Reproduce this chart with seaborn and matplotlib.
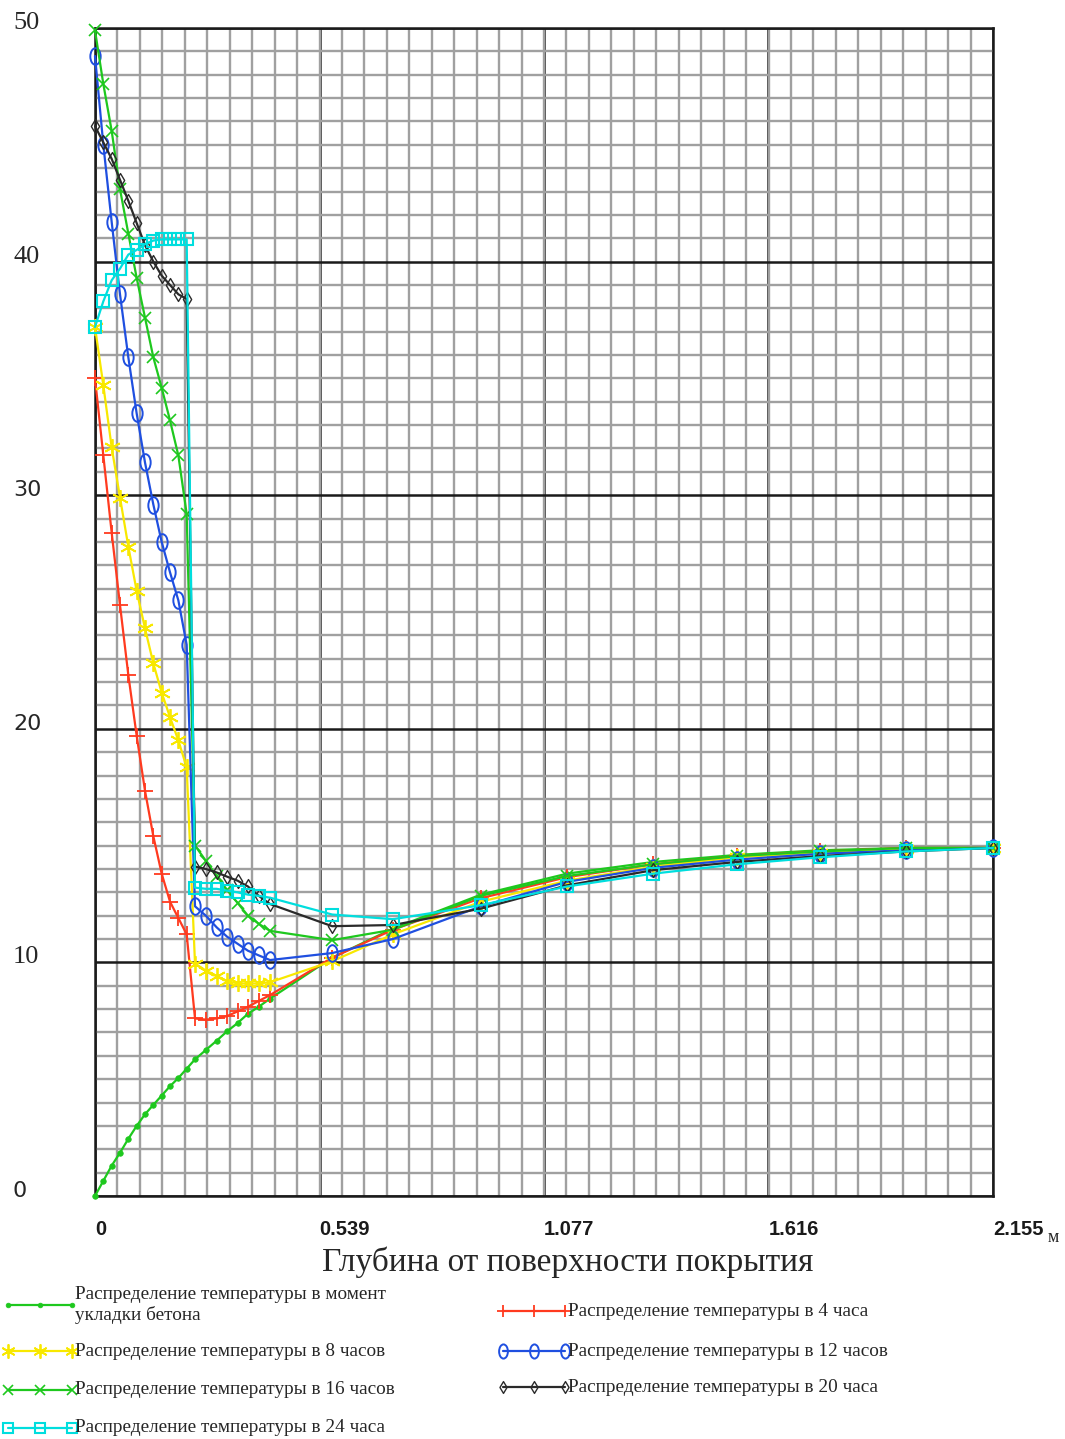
import numpy as np
import matplotlib
matplotlib.use("Agg")
import matplotlib.pyplot as plt
import matplotlib.transforms as mtransforms
from matplotlib.lines import Line2D
from matplotlib.path import Path
from matplotlib.ticker import FixedLocator
import seaborn as sns

# depth mesh, m (concrete 0..0.22, soil below)
depth = [0.0, 0.02, 0.04, 0.06, 0.08, 0.10, 0.12, 0.14, 0.16, 0.18, 0.20, 0.22,
         0.24, 0.266, 0.292, 0.317, 0.342, 0.367, 0.393, 0.42,
         0.569, 0.715, 0.926, 1.133, 1.34, 1.54, 1.74, 1.946, 2.155]

# temperature, deg C
temp_0h = [0.0, 0.65, 1.3, 1.85, 2.45, 3.0, 3.5, 3.9, 4.3, 4.7, 5.05, 5.45,
           5.85, 6.25, 6.65, 7.05, 7.4, 7.8, 8.1, 8.45,
           10.2, 11.45, 12.9, 13.8, 14.3, 14.6, 14.8, 14.9, 14.9]
temp_4h = [35.0, 31.7, 28.4, 25.3, 22.3, 19.7, 17.35, 15.4, 13.8, 12.6, 11.9, 11.2,
           7.6, 7.55, 7.6, 7.7, 7.9, 8.1, 8.35, 8.6,
           10.2, 11.4, 12.75, 13.65, 14.2, 14.55, 14.75, 14.9, 14.9]
temp_8h = [37.2, 34.7, 32.05, 29.9, 27.8, 25.9, 24.3, 22.8, 21.55, 20.5, 19.5, 18.35,
           9.95, 9.65, 9.4, 9.2, 9.1, 9.1, 9.1, 9.15,
           10.05, 11.2, 12.6, 13.5, 14.1, 14.5, 14.7, 14.85, 14.9]
temp_12h = [48.8, 45.0, 41.7, 38.6, 35.9, 33.5, 31.4, 29.6, 28.0, 26.7, 25.5, 23.6,
            12.4, 12.0, 11.5, 11.1, 10.8, 10.5, 10.3, 10.1,
            10.4, 11.0, 12.4, 13.45, 14.05, 14.4, 14.65, 14.8, 14.9]
temp_16h = [49.9, 47.6, 45.6, 43.1, 41.2, 39.3, 37.6, 35.9, 34.6, 33.2, 31.7, 29.2,
            15.0, 14.35, 13.7, 13.1, 12.55, 12.0, 11.65, 11.35,
            10.95, 11.4, 12.85, 13.7, 14.2, 14.55, 14.75, 14.9, 14.9]
temp_20h = [45.8, 45.1, 44.4, 43.5, 42.6, 41.65, 40.7, 40.0, 39.4, 39.0, 38.6, 38.4,
            14.1, 14.0, 13.85, 13.67, 13.5, 13.25, 12.85, 12.5,
            11.55, 11.6, 12.3, 13.3, 13.95, 14.3, 14.55, 14.75, 14.9]
temp_24h = [37.2, 38.3, 39.2, 39.7, 40.3, 40.5, 40.75, 40.9, 40.95, 40.95, 40.95, 40.95,
            13.2, 13.15, 13.15, 13.07, 13.0, 12.9, 12.85, 12.77,
            12.05, 11.85, 12.45, 13.25, 13.8, 14.2, 14.5, 14.75, 14.9]

series_labels = [
    "Распределение температуры в момент\nукладки бетона",
    "Распределение температуры в 4 часа",
    "Распределение температуры в 8 часов",
    "Распределение температуры в 12 часов",
    "Распределение температуры в 16 часов",
    "Распределение температуры в 20 часа",
    "Распределение температуры в 24 часа",
]
x_ticks = [0.0, 0.539, 1.077, 1.616, 2.155]
x_tick_labels = ["0", "0.539", "1.077", "1.616", "2.155"]
y_ticks = [0, 10, 20, 30, 40, 50]
y_tick_labels = ["0", "10", "20", "30", "40", "50"]

sns.set_style("white")
plt.rcParams["font.family"] = ["Liberation Serif", "DejaVu Serif"]

W, H = 1065, 1439
fig = plt.figure(figsize=(W / 100, H / 100), dpi=100)
ax = fig.add_axes([95 / W, 1 - 1196 / H, (993 - 95) / W, (1196 - 28) / H])

# tall ellipse / narrow diamond markers like the original
ellipse = Path.unit_circle().transformed(mtransforms.Affine2D().scale(0.62, 1.0))
diamond = Path([(0, -1), (0.6, 0), (0, 1), (-0.6, 0), (0, -1)],
               [Path.MOVETO, Path.LINETO, Path.LINETO, Path.LINETO, Path.CLOSEPOLY])

styles = [
    dict(color="#1ec81e", marker="o", markersize=4, markerfacecolor="#1ec81e", markeredgewidth=0.5),
    dict(color="#ff3a1f", marker="+", markersize=11, markerfacecolor="none", markeredgewidth=1.3),
    dict(color="#f8e800", marker=(6, 2, 0), markersize=12, markerfacecolor="none", markeredgewidth=1.3),
    dict(color="#1f4fe0", marker=ellipse, markersize=12, markerfacecolor="none", markeredgewidth=1.4),
    dict(color="#1ec81e", marker="x", markersize=9, markerfacecolor="none", markeredgewidth=1.2),
    dict(color="#2a2a2a", marker=diamond, markersize=10, markerfacecolor="none", markeredgewidth=1.0),
    dict(color="#00dede", marker="s", markersize=9, markerfacecolor="none", markeredgewidth=1.5),
]
all_temps = [temp_0h, temp_4h, temp_8h, temp_12h, temp_16h, temp_20h, temp_24h]

for temps, st in zip(all_temps, styles):
    sns.lineplot(x=depth, y=temps, ax=ax, estimator=None, sort=False,
                 linewidth=1.6, color=st["color"], marker=st["marker"],
                 markersize=st["markersize"], markerfacecolor=st["markerfacecolor"],
                 markeredgecolor=st["color"], markeredgewidth=st["markeredgewidth"],
                 clip_on=False, zorder=3)

ax.set_xlim(0, 2.155)
ax.set_ylim(0, 50)
ax.xaxis.set_major_locator(FixedLocator(x_ticks))
ax.xaxis.set_minor_locator(FixedLocator(np.linspace(0, 2.155, 41)))
ax.yaxis.set_major_locator(FixedLocator(y_ticks))
ax.yaxis.set_minor_locator(FixedLocator(np.arange(0, 51, 1)))
ax.grid(which="minor", color="#a0a0a0", linewidth=1.7, zorder=0)
ax.grid(which="major", color="#1a1a1a", linewidth=1.8, zorder=1)
ax.set_axisbelow(True)
for side in ["left", "bottom", "top", "right"]:
    ax.spines[side].set_color("#1a1a1a")
    ax.spines[side].set_linewidth(1.8)

ax.set_xticklabels(x_tick_labels, ha="left", family=["Liberation Sans", "DejaVu Sans"],
                   fontweight="bold", fontsize=14.5)
ax.tick_params(axis="x", which="major", direction="out", length=6, width=1.2, pad=11, colors="#1a1a1a")
ax.tick_params(axis="x", which="minor", length=0)
ax.tick_params(axis="y", which="major", direction="out", length=5, width=1.2, colors="#1a1a1a")
ax.tick_params(axis="y", which="minor", direction="out", length=3, width=1.0, colors="#555555")
ax.set_yticklabels([])
ax.set_xlabel("")
ax.set_ylabel("")

# y labels: left aligned, mixed fonts as in the source picture
ylab_tr = mtransforms.blended_transform_factory(fig.transFigure, ax.transData) + \
    mtransforms.ScaledTranslation(0, 5 / 100, fig.dpi_scale_trans)
for yv, lab in zip(y_ticks, y_tick_labels):
    if lab in ("50", "40", "10"):
        fig.text(13 / W, yv, lab, transform=ylab_tr, ha="left", va="center",
                 fontsize=19, family=["Liberation Serif"])
    else:
        fig.text(13 / W, yv, lab, transform=ylab_tr, ha="left", va="center",
                 fontsize=16, family=["DejaVu Sans"])

fig.text(568 / W, 1 - 1262 / H, "Глубина от поверхности покрытия", ha="center", va="center",
         fontsize=24)
fig.text(1053 / W, 1 - 1237 / H, "м", ha="center", va="center", fontsize=13)

# legend drawn as two columns below the axes
leg_pos = [
    (8, 72, 1305),
    (503, 565, 1311),
    (8, 72, 1351),
    (503, 565, 1351),
    (8, 72, 1390),
    (503, 565, 1387),
    (8, 72, 1428),
]
for (x0, x1, yp), st, lab in zip(leg_pos, styles, series_labels):
    fy = 1 - yp / H
    fig.add_artist(Line2D([x0 / W, (x0 + x1) / 2 / W, x1 / W], [fy, fy, fy],
                          transform=fig.transFigure, color=st["color"], linewidth=1.6,
                          marker=st["marker"], markersize=st["markersize"] * 0.85,
                          markerfacecolor=st["markerfacecolor"], markeredgecolor=st["color"],
                          markeredgewidth=st["markeredgewidth"]))
    fig.text((x1 + 3) / W, fy, lab, ha="left", va="center", fontsize=13.9, linespacing=1.2)

fig.savefig("out.png", dpi=100)
